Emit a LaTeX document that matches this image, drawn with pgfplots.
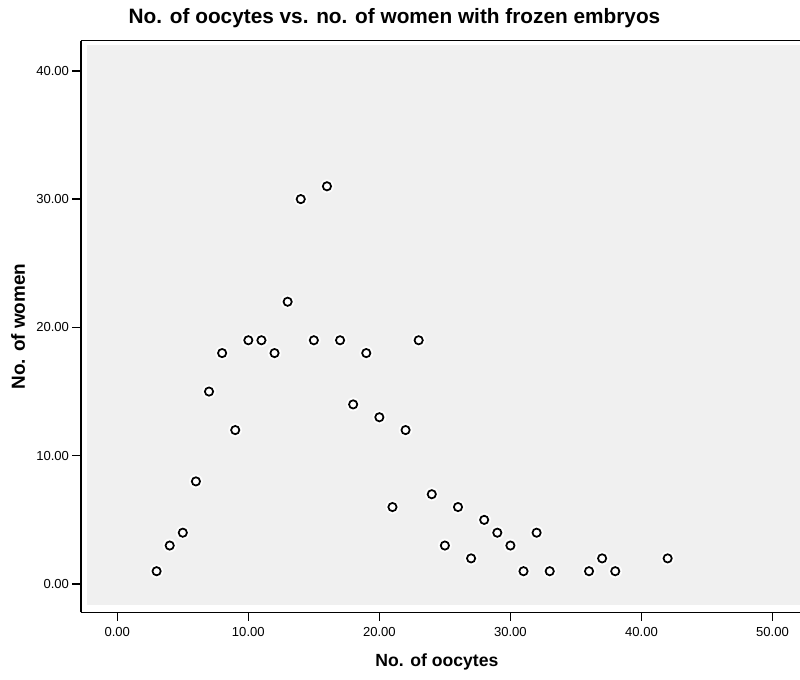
\documentclass[border=0pt]{standalone}
\usepackage{pgfplots}
\pgfplotsset{compat=1.18}
\usepackage{fontspec}
\setmainfont{Liberation Sans}
\definecolor{bggrey}{RGB}{240,240,240}
\pgfplotstableread{
x y
3 1
4 3
5 4
6 8
7 15
8 18
9 12
10 19
11 19
12 18
13 22
14 30
15 19
16 31
17 19
18 14
19 18
20 13
21 6
22 12
23 19
24 7
25 3
26 6
27 2
28 5
29 4
30 3
31 1
32 4
33 1
36 1
37 2
38 1
42 2
}\datatable
\begin{document}
\begin{tikzpicture}[x=0.75pt,y=0.75pt]
\begin{axis}[
  scale only axis,
  width=539.25pt, height=428.7pt,
  at={(0,0)}, anchor=south west,
  xmin=-2.77, xmax=52.1,
  ymin=-2.2, ymax=42.35,
  axis x line*=box, axis y line*=left,
  axis line style={black, line width=1.1pt},
  xtick={0,10,20,30,40,50},
  ytick={0,10,20,30,40},
  xtick pos=lower, ytick pos=left,
  tick align=outside,
  major tick length=6.5pt,
  tick style={black, line width=1.1pt},
  /pgf/number format/assume math mode=true,
  /pgf/number format/.cd, fixed, zerofill, precision=2,
  /pgfplots/.cd,
  ticklabel style={font=\fontsize{9.8}{11}\selectfont},
  xticklabel style={yshift=-1pt},
  yticklabel style={xshift=1pt},
  title={\textbf{No. of oocytes vs. no. of women with frozen embryos}},
  title style={at={(axis description cs:0.436,1.026)}, anchor=center, font=\fontsize{15.6}{18}\selectfont},
  xlabel={\textbf{No. of oocytes}},
  xlabel style={at={(axis description cs:0.495,-0.087)}, anchor=center, font=\fontsize{13.2}{15}\selectfont},
  ylabel={\textbf{No. of women}},
  ylabel style={at={(axis description cs:-0.0876,0.5)}, anchor=center, font=\fontsize{14.2}{16}\selectfont},
  clip=false,
]
\fill[bggrey] ([xshift=4.3pt,yshift=5.2pt]rel axis cs:0,0) rectangle ([yshift=-3.3pt]rel axis cs:1,1);
\addplot[only marks, color=white, mark=*, mark size=5.2pt, mark options={draw=white, fill=white, fill opacity=0.9, draw opacity=0}] table[x=x,y=y]{\datatable};
\addplot[only marks, color=black, mark=*, mark size=3.1pt, mark options={draw=black, fill=white, line width=1.3pt}] table[x=x,y=y]{\datatable};
\end{axis}
\pgfresetboundingbox
\useasboundingbox (-60.75pt,-50.8pt) rectangle (539.25pt,459.2pt);
\end{tikzpicture}
\end{document}
